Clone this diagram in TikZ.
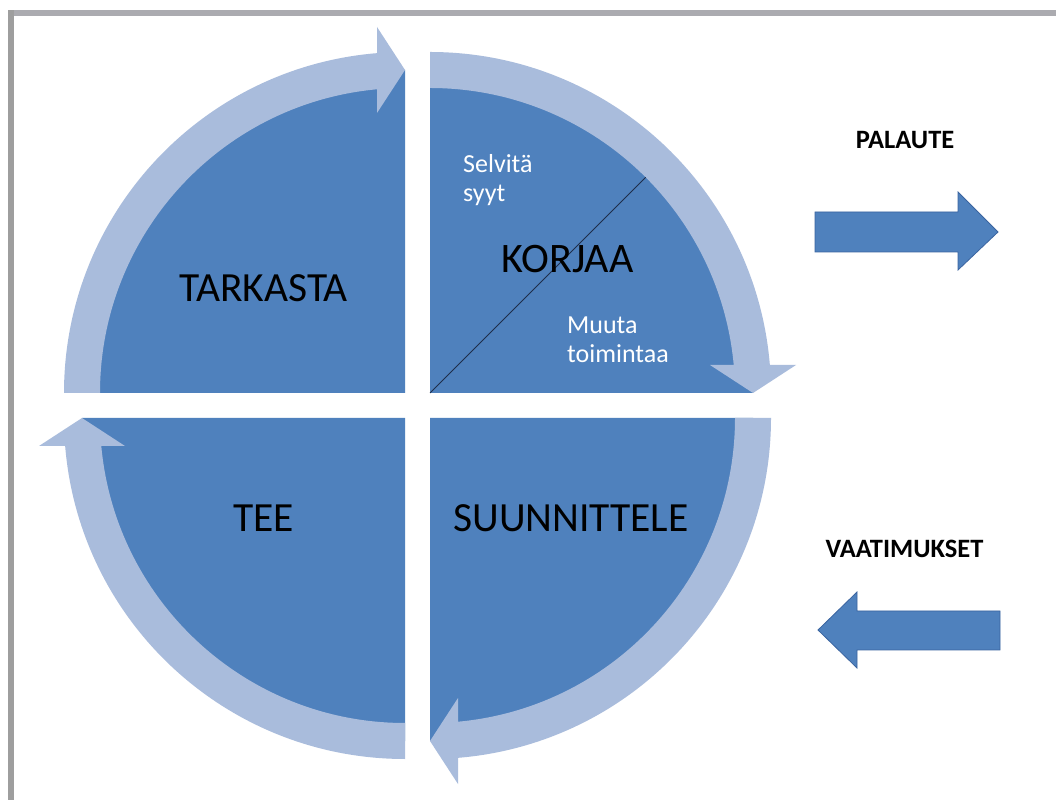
\documentclass[tikz,border=0pt]{standalone}
\usepackage{fontspec}
\setmainfont{Carlito}
\definecolor{dkblue}{HTML}{4F81BD}
\definecolor{ltblue}{HTML}{A9BCDC}
\definecolor{arrline}{HTML}{3A64A0}
\definecolor{navyline}{HTML}{1F2E4A}
\definecolor{frametop}{HTML}{ABABB0}
\definecolor{frameleft}{HTML}{9E9E9E}
\begin{document}
\begin{tikzpicture}[x=1pt,y=1pt,
  pie/.style={fill=dkblue},
  band/.style={fill=ltblue},
  quad/.pic={
    \fill[pie] (0,0) -- (0:323) arc[start angle=0,end angle=90,radius=323] -- cycle;
    \fill[band] (90:341) arc[start angle=90,end angle=4,radius=341] -- (4:305) arc[start angle=4,end angle=90,radius=305] -- cycle;
    \fill[band] (323,0) -- (280,28) -- (366,28) -- cycle;
  },
  big/.style={font=\fontsize{41.5}{41.5}\selectfont, text=black, inner sep=0pt, anchor=base},
  small/.style={font=\fontsize{26}{29}\selectfont, text=white, inner sep=0pt, anchor=base west, align=left},
  lbl/.style={font=\bfseries\fontsize{26.5}{26.5}\selectfont, text=black, inner sep=0pt, anchor=base},
  blockarrow/.style={fill=dkblue, draw=arrline, line width=0.8pt, line join=miter}]
\useasboundingbox (0,0) rectangle (1056,800);
\fill[white] (0,0) rectangle (1056,800);
% frame
\fill[frametop] (8,790) rectangle (1056,784);
\fill[frameleft] (8,790) rectangle (14,0);
% quadrants
\pic[rotate=90] at (405,407) {quad};
\pic[rotate=0] at (430,407) {quad};
\pic[rotate=270] at (430,382) {quad};
\pic[rotate=180] at (405,382) {quad};
% diagonal in KORJAA
\coordinate (dgA) at (430,407);
\coordinate (dgB) at (645.7,622.7);
\draw[navyline, line width=1pt] (dgA) -- (dgB);
% labels
\node[big] (tarkasta) at (263.5,498) {TARKASTA};
\node[big, font=\fontsize{42}{42}\selectfont] (korjaa) at (567.5,527) {KORJAA};
\node[big] (tee) at (263.5,268) {TEE};
\node[big] (suunnittele) at (571,268) {SUUNNITTELE};
\node[small] (selvita) at (463,598) {Selvitä\\syyt};
\node[small] (muuta) at (567,437) {Muuta\\toimintaa};
\node[lbl] (palaute) at (905,651) {PALAUTE};
\node[lbl] (vaatimukset) at (904.5,242) {VAATIMUKSET};
% block arrows
\draw[blockarrow] (815,588) -- (958,588) -- (958,608) -- (998,568) -- (958,530) -- (958,548) -- (815,548) -- cycle;
\draw[blockarrow] (1000,189) -- (857,189) -- (857,208) -- (818,170) -- (857,132) -- (857,150) -- (1000,150) -- cycle;
\end{tikzpicture}
\end{document}
